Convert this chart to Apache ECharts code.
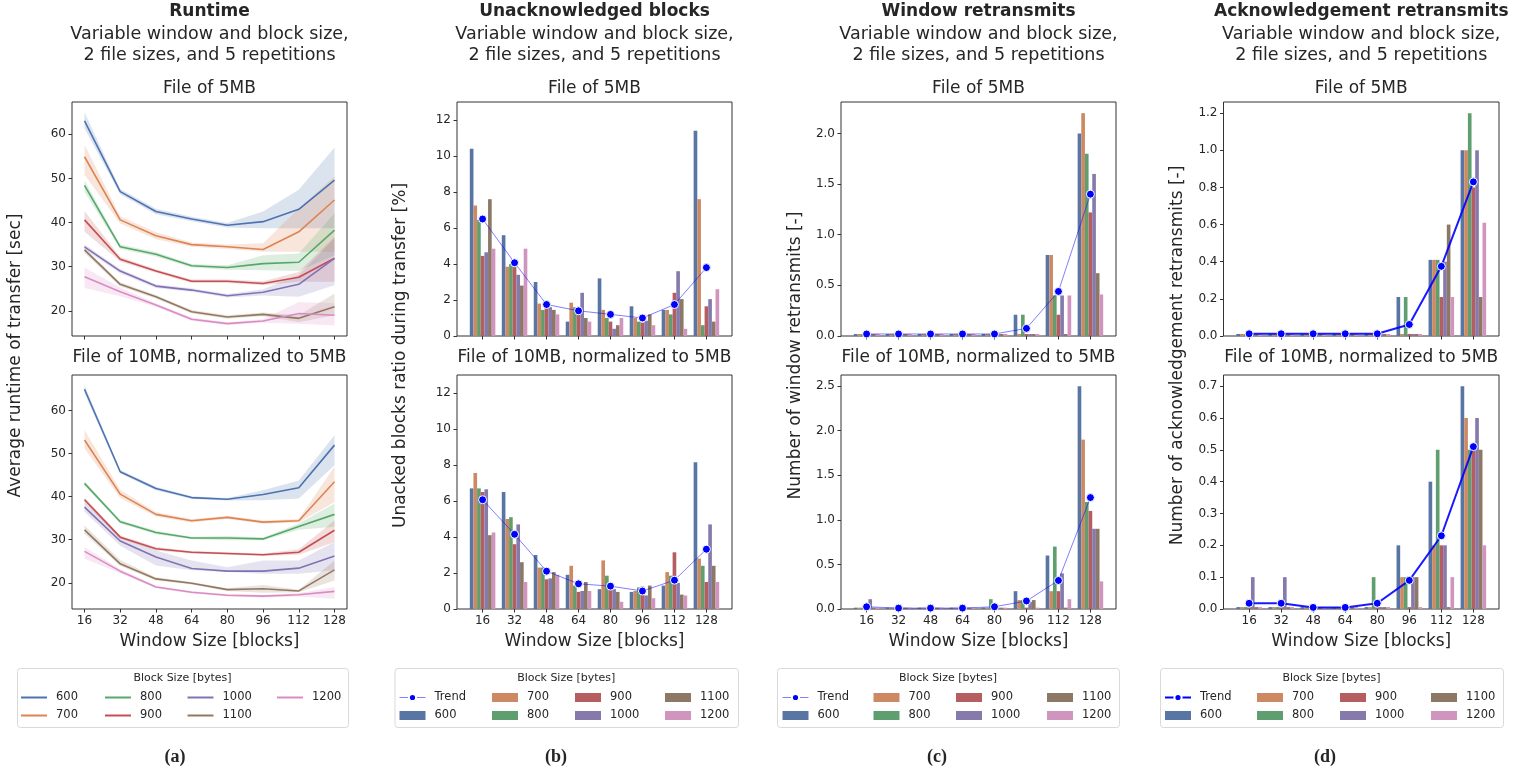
<!DOCTYPE html>
<html><head><meta charset="utf-8">
<script src="https://cdn.jsdelivr.net/npm/echarts@6/dist/echarts.min.js"></script>
<style>html,body{margin:0;padding:0;background:#fff}#c{width:1523px;height:774px}</style>
</head><body><div id="c"></div>
<script>
// ---------------- DATA ----------------
const windowSizes = [16, 32, 48, 64, 80, 96, 112, 128];
const blockSizes = ['600', '700', '800', '900', '1000', '1100', '1200'];

// (a) Runtime, file of 5MB: mean, lower and upper band
const rt5_600 = [63.0, 47.0, 42.5, 40.8, 39.4, 40.2, 43.0, 49.6];
const rt5_600_lo = [61.3, 46.4, 41.9, 40.3, 38.9, 38.7, 38.7, 38.7];
const rt5_600_hi = [64.9, 47.6, 43.1, 41.3, 39.9, 42.5, 47.4, 57.0];
const rt5_700 = [54.9, 40.6, 37.0, 35.0, 34.5, 33.9, 37.9, 45.1];
const rt5_700_lo = [50.8, 39.8, 36.2, 34.5, 34.0, 33.4, 33.4, 33.4];
const rt5_700_hi = [57.6, 41.4, 37.8, 35.5, 35.0, 35.3, 43.2, 50.4];
const rt5_800 = [48.4, 34.5, 32.8, 30.2, 29.8, 30.7, 31.0, 38.3];
const rt5_800_lo = [47.0, 34.0, 32.3, 29.8, 29.3, 29.2, 29.0, 32.6];
const rt5_800_hi = [49.6, 35.0, 33.3, 30.6, 30.3, 32.6, 33.0, 42.1];
const rt5_900 = [40.6, 31.7, 29.0, 26.7, 26.7, 26.2, 27.6, 31.9];
const rt5_900_lo = [37.9, 31.2, 28.6, 26.3, 26.3, 25.8, 26.6, 26.6];
const rt5_900_hi = [42.6, 32.2, 29.4, 27.1, 27.1, 26.7, 28.8, 36.8];
const rt5_1000 = [34.5, 29.0, 25.6, 24.7, 23.4, 24.2, 26.0, 31.9];
const rt5_1000_lo = [33.9, 28.5, 25.2, 24.3, 23.0, 23.5, 23.2, 25.8];
const rt5_1000_hi = [35.0, 29.5, 26.0, 25.1, 23.8, 24.9, 28.1, 36.4];
const rt5_1100 = [33.8, 26.0, 23.2, 19.8, 18.6, 19.2, 18.3, 20.9];
const rt5_1100_lo = [33.1, 25.5, 22.8, 19.4, 18.2, 18.8, 17.4, 19.0];
const rt5_1100_hi = [34.3, 26.5, 23.6, 20.2, 19.0, 19.6, 19.0, 23.9];
const rt5_1200 = [27.7, 24.3, 21.3, 18.1, 17.1, 17.7, 19.4, 19.0];
const rt5_1200_lo = [25.2, 23.3, 20.9, 17.7, 16.8, 17.3, 17.1, 16.7];
const rt5_1200_hi = [29.8, 25.3, 21.7, 18.5, 17.4, 18.1, 22.0, 21.7];

// (a) Runtime, file of 10MB normalized to 5MB
const rt10_600 = [65.0, 45.8, 41.9, 39.8, 39.4, 40.5, 42.1, 52.0];
const rt10_600_lo = [64.0, 45.4, 41.5, 39.5, 39.1, 39.2, 39.6, 47.3];
const rt10_600_hi = [66.0, 46.2, 42.3, 40.1, 39.7, 41.5, 43.8, 54.3];
const rt10_700 = [53.2, 40.6, 35.9, 34.4, 35.2, 34.1, 34.4, 43.5];
const rt10_700_lo = [51.2, 39.7, 35.4, 34.0, 34.8, 33.7, 34.0, 38.8];
const rt10_700_hi = [55.5, 41.6, 36.4, 34.8, 35.6, 34.5, 34.8, 47.0];
const rt10_800 = [43.1, 34.2, 31.7, 30.4, 30.4, 30.2, 33.1, 35.9];
const rt10_800_lo = [42.6, 33.8, 31.3, 30.1, 29.9, 29.9, 32.3, 33.0];
const rt10_800_hi = [43.6, 34.6, 32.1, 30.7, 30.9, 30.5, 33.8, 38.4];
const rt10_900 = [39.3, 30.6, 27.9, 27.1, 26.8, 26.5, 27.1, 32.2];
const rt10_900_lo = [38.7, 30.2, 27.5, 26.8, 26.5, 26.2, 26.5, 29.5];
const rt10_900_hi = [39.9, 31.0, 28.3, 27.4, 27.1, 26.8, 27.8, 34.5];
const rt10_1000 = [37.6, 29.7, 26.0, 23.3, 22.7, 22.7, 23.4, 26.2];
const rt10_1000_lo = [36.5, 28.6, 24.0, 22.9, 22.5, 22.1, 22.1, 22.9];
const rt10_1000_hi = [38.8, 30.9, 27.5, 25.2, 23.6, 25.2, 25.2, 29.5];
const rt10_1100 = [32.3, 24.4, 20.9, 19.9, 18.4, 18.6, 18.1, 23.0];
const rt10_1100_lo = [31.4, 23.9, 20.5, 19.6, 18.1, 17.7, 17.8, 20.5];
const rt10_1100_hi = [33.3, 25.3, 21.3, 20.2, 18.7, 19.5, 18.4, 25.2];
const rt10_1200 = [27.3, 22.7, 19.0, 17.8, 17.1, 16.9, 17.2, 18.0];
const rt10_1200_lo = [25.6, 22.2, 18.7, 17.5, 16.8, 16.6, 16.8, 16.3];
const rt10_1200_hi = [28.3, 23.2, 19.3, 18.1, 17.4, 17.2, 17.6, 19.0];

// (b) Unacknowledged blocks ratio [%]
const unack5_600 = [10.4, 5.6, 3.0, 0.8, 3.2, 1.65, 1.45, 11.4];
const unack5_700 = [7.25, 3.85, 1.8, 1.85, 1.45, 1.0, 1.45, 7.6];
const unack5_800 = [6.45, 4.0, 1.45, 1.6, 1.0, 0.8, 1.2, 0.6];
const unack5_900 = [4.45, 3.85, 1.6, 1.2, 0.8, 0.75, 2.4, 1.65];
const unack5_1000 = [4.65, 3.4, 1.6, 2.4, 0.4, 0.85, 3.6, 2.05];
const unack5_1100 = [7.6, 2.8, 1.45, 1.0, 0.6, 1.2, 2.05, 0.8];
const unack5_1200 = [4.85, 4.85, 1.2, 0.8, 1.0, 0.6, 0.4, 2.6];
const unack5_trend = [6.5, 4.07, 1.75, 1.4, 1.2, 1.0, 1.75, 3.8];
const unack10_600 = [6.7, 6.5, 3.0, 1.9, 1.1, 0.95, 1.3, 8.15];
const unack10_700 = [7.55, 5.0, 2.3, 2.4, 2.7, 1.0, 2.05, 2.8];
const unack10_800 = [6.7, 5.1, 2.3, 1.3, 1.85, 1.2, 1.85, 2.4];
const unack10_900 = [6.5, 3.6, 1.65, 0.95, 1.05, 1.25, 3.15, 1.5];
const unack10_1000 = [6.65, 4.7, 1.7, 1.0, 1.1, 0.75, 1.45, 4.7];
const unack10_1100 = [4.1, 2.6, 2.05, 1.5, 0.95, 1.3, 0.8, 2.4];
const unack10_1200 = [4.25, 1.5, 1.9, 1.0, 0.4, 0.6, 0.75, 1.5];
const unack10_trend = [6.07, 4.15, 2.1, 1.4, 1.27, 1.0, 1.6, 3.32];

// (c) Window retransmits [-]
const win5_600 = [0.02, 0.02, 0.02, 0.02, 0.02, 0.21, 0.8, 2.0];
const win5_700 = [0.02, 0.02, 0.02, 0.02, 0.02, 0.02, 0.8, 2.2];
const win5_800 = [0.02, 0.02, 0.02, 0.02, 0.02, 0.21, 0.4, 1.8];
const win5_900 = [0.02, 0.02, 0.02, 0.02, 0.02, 0.02, 0.21, 1.22];
const win5_1000 = [0.02, 0.02, 0.02, 0.02, 0.02, 0.02, 0.4, 1.6];
const win5_1100 = [0.02, 0.02, 0.02, 0.02, 0.02, 0.02, 0.02, 0.62];
const win5_1200 = [0.02, 0.02, 0.02, 0.02, 0.02, 0.02, 0.4, 0.41];
const win5_trend = [0.02, 0.02, 0.02, 0.02, 0.02, 0.075, 0.44, 1.4];
const win10_600 = [0.015, 0.015, 0.015, 0.015, 0.015, 0.2, 0.6, 2.5];
const win10_700 = [0.015, 0.015, 0.015, 0.015, 0.015, 0.1, 0.2, 1.9];
const win10_800 = [0.015, 0.015, 0.015, 0.015, 0.11, 0.1, 0.7, 1.2];
const win10_900 = [0.015, 0.015, 0.015, 0.015, 0.015, 0.015, 0.2, 1.1];
const win10_1000 = [0.11, 0.015, 0.015, 0.015, 0.015, 0.08, 0.4, 0.9];
const win10_1100 = [0.015, 0.015, 0.015, 0.015, 0.015, 0.1, 0.015, 0.9];
const win10_1200 = [0.015, 0.015, 0.015, 0.015, 0.015, 0.015, 0.11, 0.31];
const win10_trend = [0.025, 0.01, 0.01, 0.01, 0.025, 0.09, 0.32, 1.25];

// (d) Acknowledgement retransmits [-]
const ack5_600 = [0.011, 0.011, 0.011, 0.011, 0.011, 0.21, 0.41, 1.0];
const ack5_700 = [0.011, 0.011, 0.011, 0.011, 0.011, 0.011, 0.41, 1.0];
const ack5_800 = [0.011, 0.011, 0.011, 0.011, 0.011, 0.21, 0.41, 1.2];
const ack5_900 = [0.011, 0.011, 0.011, 0.011, 0.011, 0.011, 0.21, 0.8];
const ack5_1000 = [0.011, 0.011, 0.011, 0.011, 0.011, 0.011, 0.4, 1.0];
const ack5_1100 = [0.011, 0.011, 0.011, 0.011, 0.011, 0.011, 0.6, 0.21];
const ack5_1200 = [0.011, 0.011, 0.011, 0.011, 0.011, 0.011, 0.21, 0.61];
const ack5_trend = [0.012, 0.012, 0.012, 0.012, 0.012, 0.062, 0.375, 0.83];
const ack10_600 = [0.006, 0.006, 0.006, 0.006, 0.006, 0.2, 0.4, 0.7];
const ack10_700 = [0.006, 0.006, 0.006, 0.006, 0.006, 0.1, 0.2, 0.6];
const ack10_800 = [0.006, 0.006, 0.006, 0.006, 0.1, 0.1, 0.5, 0.5];
const ack10_900 = [0.006, 0.006, 0.006, 0.006, 0.006, 0.006, 0.2, 0.5];
const ack10_1000 = [0.1, 0.1, 0.006, 0.006, 0.006, 0.1, 0.2, 0.6];
const ack10_1100 = [0.006, 0.006, 0.006, 0.006, 0.006, 0.1, 0.006, 0.5];
const ack10_1200 = [0.006, 0.006, 0.006, 0.006, 0.006, 0.006, 0.1, 0.2];
const ack10_trend = [0.018, 0.018, 0.005, 0.005, 0.018, 0.09, 0.23, 0.51];

// tick labels
const runtimeTicks = [20, 30, 40, 50, 60];
const unackTicks = [0, 2, 4, 6, 8, 10, 12];
const win5Ticks = [0, 0.5, 1.0, 1.5, 2.0];
const win10Ticks = [0, 0.5, 1.0, 1.5, 2.0, 2.5];
const ack5Ticks = [0, 0.2, 0.4, 0.6, 0.8, 1.0, 1.2];
const ack10Ticks = [0, 0.1, 0.2, 0.3, 0.4, 0.5, 0.6, 0.7];
const categoryIdx = [0, 1, 2, 3, 4, 5, 6, 7];

// ---------------- STYLE / LAYOUT ----------------
const deep = ['#4C72B0', '#DD8452', '#55A868', '#C44E52', '#8172B3', '#937860', '#DA8BC3'];
const desat = ['#5975a4', '#cc8963', '#5f9e6e', '#b55d60', '#857aab', '#8d7866', '#d095bf'];
const FONT = '"DejaVu Sans", sans-serif';
const TXT = '#262626';
const colLeft = [72, 457, 841, 1223.5];
const colWidth = [275, 275, 275, 275.5];
const rowTop = [102, 375];
const plotH = 234;

const grids = [], xAxes = [], yAxes = [], series = [];

function addGrid(col, row, xType, yMin, yMax, yTicks, yFmt) {
  const gi = grids.length;
  grids.push({left: colLeft[col], top: rowTop[row], width: colWidth[col], height: plotH,
    show: true, borderColor: '#333', borderWidth: 1, backgroundColor: 'transparent', containLabel: false});
  const isA = xType === 'a';
  xAxes.push({type: 'value', gridIndex: gi,
    min: isA ? 10.4 : -0.8, max: isA ? 133.6 : 7.8,
    axisLine: {show: false, onZero: false}, splitLine: {show: false},
    axisTick: {show: true, length: 3.5, lineStyle: {color: '#333'}, customValues: isA ? windowSizes : categoryIdx},
    axisLabel: {show: row === 1, margin: 6, fontSize: 12, color: TXT, fontFamily: FONT,
      customValues: isA ? windowSizes : categoryIdx,
      formatter: v => isA ? String(v) : String(windowSizes[Math.round(v)])},
    name: row === 1 ? 'Window Size [blocks]' : '', nameLocation: 'middle', nameGap: 24,
    nameTextStyle: {fontSize: 17, color: TXT, fontFamily: FONT}
  });
  yAxes.push({type: 'value', gridIndex: gi, min: yMin, max: yMax,
    axisLine: {show: false, onZero: false}, splitLine: {show: false},
    axisTick: {show: true, length: 3.5, lineStyle: {color: '#333'}, customValues: yTicks},
    axisLabel: {margin: 6, fontSize: 12, color: TXT, fontFamily: FONT, customValues: yTicks,
      formatter: yFmt}
  });
  return gi;
}

function addRuntime(gi, means, los, his) {
  means.forEach((m, k) => {
    const lo = los[k], hi = his[k];
    series.push({type: 'custom', name: blockSizes[k] + ' band', xAxisIndex: gi, yAxisIndex: gi, silent: true, z: 1,
      data: windowSizes.map((w, i) => [w, lo[i], hi[i]]),
      encode: {x: 0, y: [1, 2]},
      renderItem: function (params, api) {
        if (params.dataIndex !== 0) return;
        const top = [], bot = [];
        for (let i = 0; i < windowSizes.length; i++) {
          top.push(api.coord([windowSizes[i], hi[i]]));
          bot.push(api.coord([windowSizes[i], lo[i]]));
        }
        return {type: 'polygon', shape: {points: top.concat(bot.reverse())},
          style: {fill: deep[k], opacity: 0.2}};
      }
    });
  });
  means.forEach((m, k) => {
    series.push({type: 'line', name: blockSizes[k], xAxisIndex: gi, yAxisIndex: gi, z: 3,
      data: windowSizes.map((w, i) => [w, m[i]]), symbol: 'none', silent: true,
      lineStyle: {color: deep[k], width: 1.6}, itemStyle: {color: deep[k]}});
  });
}

function addBars(gi, arrays, trend, strong) {
  arrays.forEach((arr, k) => {
    series.push({type: 'bar', name: blockSizes[k], xAxisIndex: gi, yAxisIndex: gi, z: 2, silent: true,
      data: arr.map((v, i) => [i, v]), barWidth: 3.65, barGap: '0%',
      itemStyle: {color: desat[k]}});
  });
  series.push({type: 'line', name: 'Trend', xAxisIndex: gi, yAxisIndex: gi, z: 4, silent: true,
    data: trend.map((v, i) => [i, v]), symbol: 'circle', symbolSize: 8,
    lineStyle: {color: '#0000ff', width: strong ? 2 : 1, opacity: strong ? 0.9 : 0.5},
    itemStyle: {color: '#0000ff', borderColor: '#ffffff', borderWidth: 1, opacity: 1}});
}

const int = v => String(Math.round(v));
const one = v => v.toFixed(1);

// (a)
let g = addGrid(0, 0, 'a', 14.3, 67.3, runtimeTicks, int);
addRuntime(g, [rt5_600, rt5_700, rt5_800, rt5_900, rt5_1000, rt5_1100, rt5_1200],
  [rt5_600_lo, rt5_700_lo, rt5_800_lo, rt5_900_lo, rt5_1000_lo, rt5_1100_lo, rt5_1200_lo],
  [rt5_600_hi, rt5_700_hi, rt5_800_hi, rt5_900_hi, rt5_1000_hi, rt5_1100_hi, rt5_1200_hi]);
g = addGrid(0, 1, 'a', 13.9, 68.3, runtimeTicks, int);
addRuntime(g, [rt10_600, rt10_700, rt10_800, rt10_900, rt10_1000, rt10_1100, rt10_1200],
  [rt10_600_lo, rt10_700_lo, rt10_800_lo, rt10_900_lo, rt10_1000_lo, rt10_1100_lo, rt10_1200_lo],
  [rt10_600_hi, rt10_700_hi, rt10_800_hi, rt10_900_hi, rt10_1000_hi, rt10_1100_hi, rt10_1200_hi]);
// (b)
g = addGrid(1, 0, 'b', 0, 13, unackTicks, int);
addBars(g, [unack5_600, unack5_700, unack5_800, unack5_900, unack5_1000, unack5_1100, unack5_1200], unack5_trend, false);
g = addGrid(1, 1, 'b', 0, 13, unackTicks, int);
addBars(g, [unack10_600, unack10_700, unack10_800, unack10_900, unack10_1000, unack10_1100, unack10_1200], unack10_trend, false);
// (c)
g = addGrid(2, 0, 'b', 0, 2.31, win5Ticks, one);
addBars(g, [win5_600, win5_700, win5_800, win5_900, win5_1000, win5_1100, win5_1200], win5_trend, false);
g = addGrid(2, 1, 'b', 0, 2.625, win10Ticks, one);
addBars(g, [win10_600, win10_700, win10_800, win10_900, win10_1000, win10_1100, win10_1200], win10_trend, false);
// (d)
g = addGrid(3, 0, 'b', 0, 1.26, ack5Ticks, one);
addBars(g, [ack5_600, ack5_700, ack5_800, ack5_900, ack5_1000, ack5_1100, ack5_1200], ack5_trend, true);
g = addGrid(3, 1, 'b', 0, 0.735, ack10Ticks, one);
addBars(g, [ack10_600, ack10_700, ack10_800, ack10_900, ack10_1000, ack10_1100, ack10_1200], ack10_trend, true);

// ---------------- TEXT / LEGENDS ----------------
const graphic = [];
function txt(x, y, text, font, opts) {
  graphic.push(Object.assign({type: 'text', x: x, y: y, silent: true, z: 20,
    style: {text: text, font: font, fill: TXT, align: 'center', verticalAlign: 'middle'}}, opts || {}));
}
const mainTitles = ['Runtime', 'Unacknowledged blocks', 'Window retransmits', 'Acknowledgement retransmits'];
const yNames = ['Average runtime of transfer [sec]', 'Unacked blocks ratio during transfer [%]',
  'Number of window retransmits [-]', 'Number of acknowledgement retransmits [-]'];
const yNameX = [16, 401, 796, 1178];
const captions = ['(a)', '(b)', '(c)', '(d)'];
const captionX = [175, 556, 937, 1325];
for (let c = 0; c < 4; c++) {
  const cx = colLeft[c] + colWidth[c] / 2;
  txt(cx, 12, mainTitles[c], 'bold 17px ' + FONT);
  txt(cx, 34, 'Variable window and block size,', '17.5px ' + FONT);
  txt(cx, 55, '2 file sizes, and 5 repetitions', '17.5px ' + FONT);
  txt(cx, 89, 'File of 5MB', '17px ' + FONT);
  txt(cx, 358, 'File of 10MB, normalized to 5MB', '17px ' + FONT);
  txt(yNameX[c], 355.5, yNames[c], '17px ' + FONT, {rotation: Math.PI / 2});
  txt(captionX[c], 757, captions[c], 'bold 18px "Liberation Serif", serif');
}

const legendBox = [[17, 348], [394.5, 738], [777, 1119], [1160, 1503]];
const legendCols = [[20, 104, 186.5, 276], [399, 492, 575, 665], [782, 873.5, 956, 1047], [1164, 1257, 1340, 1431]];
const legends = [];
legendBox.forEach((b, p) => {
  graphic.push({type: 'rect', silent: true, z: 0, shape: {x: b[0] + 0.5, y: 668.5, width: b[1] - b[0], height: 59, r: 3},
    style: {fill: '#fff', stroke: '#d9d9d9', lineWidth: 1}});
  txt((b[0] + b[1]) / 2, 678, 'Block Size [bytes]', '11px ' + FONT);
  let cols;
  if (p === 0) cols = [['600', '700'], ['800', '900'], ['1000', '1100'], ['1200']];
  else cols = [['Trend', '600'], ['700', '800'], ['900', '1000'], ['1100', '1200']];
  cols.forEach((names, ci) => {
    legends.push({orient: 'vertical', left: legendCols[p][ci], top: 691.5, padding: 0, itemGap: 6,
      itemWidth: 26, itemHeight: 9, selectedMode: false, z: 10,
      textStyle: {fontSize: 11.5, color: TXT, fontFamily: FONT, lineHeight: 12, padding: [0, 0, 0, 4]},
      data: names.map(n => {
        if (n === 'Trend') return {name: n, lineStyle: {width: p === 3 ? 2 : 1, opacity: p === 3 ? 1 : 0.5, color: '#0000ff'}};
        const k = blockSizes.indexOf(n);
        if (p === 0) return {name: n, itemStyle: {opacity: 0}, lineStyle: {width: 2, color: deep[k], opacity: 1}};
        return {name: n, icon: 'rect', itemStyle: {color: desat[k], opacity: 1}};
      })
    });
  });
});

const chart = echarts.init(document.getElementById('c'));
chart.setOption({
  animation: false,
  backgroundColor: '#fff',
  grid: grids, xAxis: xAxes, yAxis: yAxes, series: series,
  legend: legends, graphic: graphic
});
</script></body></html>
